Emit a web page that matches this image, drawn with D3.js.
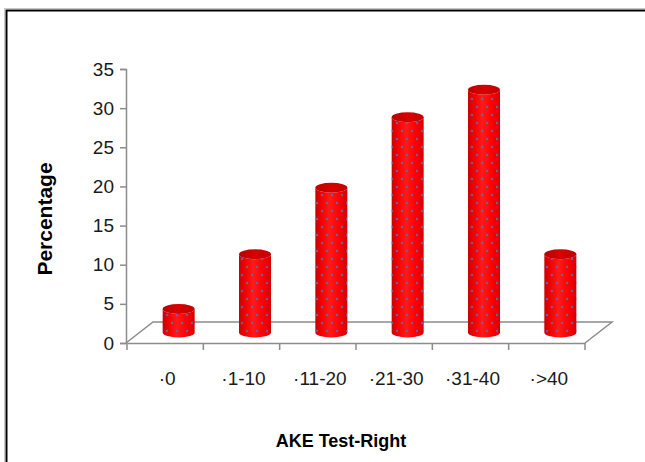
<!DOCTYPE html>
<html>
<head>
<meta charset="utf-8">
<script src="https://cdn.jsdelivr.net/npm/d3@7"></script>
<style>
  body { margin: 0; background: #fff; }
  svg { display: block; font-family: "Liberation Sans", Arial, sans-serif; }
  .axis path, .axis line { stroke: #8c8c8c; }
  .axis text { fill: #1a1a1a; }
</style>
</head>
<body>
<div class="svg-container"></div>
<script>
// data
const categories = ['·0', '·1-10', '·11-20', '·21-30', '·31-40', '·>40'];
const percentages = [3, 10, 18.5, 27.5, 31, 10];
const yTicks = [0, 5, 10, 15, 20, 25, 30, 35];

const W = 645, H = 462;
const depth = {dx: 27, dy: 21};   // floor depth offset

const svg = d3.select('.svg-container')
  .append('svg')
  .attr('width', W)
  .attr('height', H);

// frame (runs off right/bottom edge)
svg.append('rect')
  .attr('x', 4.5).attr('y', 8.5)
  .attr('width', 800).attr('height', 600)
  .attr('fill', 'none').attr('stroke', '#c8c8c8').attr('stroke-width', 1);
svg.append('rect')
  .attr('x', 6.5).attr('y', 10.5)
  .attr('width', 800).attr('height', 600)
  .attr('fill', 'none').attr('stroke', '#000').attr('stroke-width', 2);

const yScale = d3.scaleLinear().domain([0, 35]).range([343, 69]);
const xScale = d3.scaleBand().domain(categories).range([127, 585]).padding(0);

const defs = svg.append('defs');

const bodyGrad = defs.append('linearGradient').attr('id', 'bodyGrad')
  .attr('x1', '0%').attr('x2', '100%').attr('y1', '0%').attr('y2', '0%');
[['0%', '#c80000'], ['18%', '#f20000'], ['45%', '#ff1a1a'], ['75%', '#ff0000'], ['100%', '#d40000']]
  .forEach(s => bodyGrad.append('stop').attr('offset', s[0]).attr('stop-color', s[1]));

const topGrad = defs.append('linearGradient').attr('id', 'topGrad')
  .attr('x1', '0%').attr('x2', '100%').attr('y1', '0%').attr('y2', '0%');
[['0%', '#b80000'], ['50%', '#d80000'], ['100%', '#c00000']]
  .forEach(s => topGrad.append('stop').attr('offset', s[0]).attr('stop-color', s[1]));

const dots = defs.append('pattern').attr('id', 'dots')
  .attr('patternUnits', 'userSpaceOnUse')
  .attr('width', 10).attr('height', 16);
dots.append('circle').attr('cx', 2).attr('cy', 3).attr('r', 1.2).attr('fill', '#5a6cb0').attr('opacity', 0.9);
dots.append('circle').attr('cx', 7).attr('cy', 11).attr('r', 1.2).attr('fill', '#5a6cb0').attr('opacity', 0.9);

// 3D floor
const x0 = xScale.range()[0] - 1, x1 = xScale.range()[1], yf = yScale(0);
svg.append('path')
  .attr('d', `M${x0},${yf} L${x0 + depth.dx},${yf - depth.dy} L${x1 + depth.dx},${yf - depth.dy} L${x1},${yf}`)
  .attr('fill', 'none').attr('stroke', '#8c8c8c').attr('stroke-width', 1.5);

// y axis
const yAxis = d3.axisLeft(yScale).tickValues(yTicks).tickSize(6).tickPadding(6);
svg.append('g')
  .attr('class', 'y axis')
  .attr('transform', `translate(${x0},0)`)
  .call(yAxis)
  .call(g => g.selectAll('path, line').attr('stroke-width', 1.5))
  .call(g => g.selectAll('text').attr('font-size', 19));

// x axis: labels at band centres, ticks at band edges
const xAxis = d3.axisBottom(xScale).tickSize(0).tickPadding(29);
svg.append('g')
  .attr('class', 'x axis')
  .attr('transform', `translate(0,${yf})`)
  .call(xAxis)
  .call(g => g.select('.domain').attr('stroke-width', 1.5))
  .call(g => g.selectAll('text').attr('font-size', 19).attr('dx', 2));

const edges = categories.map(c => xScale(c)).concat([x1]);
svg.append('g')
  .selectAll('line')
  .data(edges)
  .enter()
  .append('line')
  .attr('x1', d => d).attr('x2', d => d)
  .attr('y1', yf).attr('y2', yf + 7)
  .attr('stroke', '#8c8c8c').attr('stroke-width', 1.5);

// cylinders
const r = 16, ry = 5;
const cyl = svg.selectAll('.bar')
  .data(categories.map((c, i) => ({cat: c, value: percentages[i]})))
  .enter()
  .append('g')
  .attr('class', 'bar');

function bodyPath(d) {
  const cx = xScale(d.cat) + xScale.bandwidth() / 2 + depth.dx / 2;
  const yb = yScale(0) - depth.dy / 2;
  const yt = yScale(d.value) - depth.dy / 2;
  return `M${cx - r},${yt} L${cx - r},${yb} A${r},${ry} 0 0 0 ${cx + r},${yb} ` +
         `L${cx + r},${yt} A${r},${ry} 0 0 1 ${cx - r},${yt} Z`;
}

cyl.append('path').attr('d', bodyPath).attr('fill', 'url(#bodyGrad)');
cyl.append('path').attr('d', bodyPath).attr('fill', 'url(#dots)');
cyl.append('ellipse')
  .attr('cx', d => xScale(d.cat) + xScale.bandwidth() / 2 + depth.dx / 2)
  .attr('cy', d => yScale(d.value) - depth.dy / 2)
  .attr('rx', r).attr('ry', ry)
  .attr('fill', 'url(#topGrad)');

// axis titles
svg.append('text')
  .attr('transform', 'translate(52,219) rotate(-90)')
  .attr('text-anchor', 'middle')
  .attr('font-size', 21)
  .attr('font-weight', 'bold')
  .attr('fill', '#000')
  .text('Percentage');

svg.append('text')
  .attr('x', 341).attr('y', 447)
  .attr('text-anchor', 'middle')
  .attr('font-size', 18)
  .attr('font-weight', 'bold')
  .attr('fill', '#000')
  .text('AKE Test-Right');
</script>
</body>
</html>
